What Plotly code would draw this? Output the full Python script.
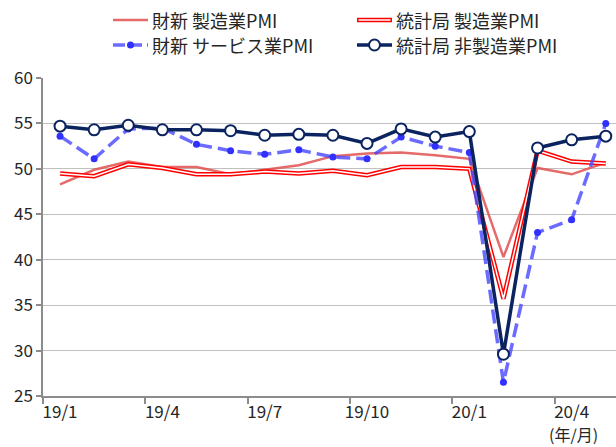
import plotly.graph_objects as go

months = ["19/1","19/2","19/3","19/4","19/5","19/6","19/7","19/8","19/9","19/10","19/11","19/12",
          "20/1","20/2","20/3","20/4","20/5"]
caixin_mfg = [48.3,49.9,50.8,50.2,50.2,49.4,49.9,50.4,51.4,51.7,51.8,51.5,51.1,40.3,50.1,49.4,50.7]
nbs_mfg = [49.5,49.2,50.5,50.1,49.4,49.4,49.7,49.5,49.8,49.3,50.2,50.2,50.0,35.7,52.0,50.8,50.6]
caixin_svc = [53.6,51.1,54.4,54.5,52.7,52.0,51.6,52.1,51.3,51.1,53.5,52.5,51.8,26.5,43.0,44.4,55.0]
nbs_nonmfg = [54.7,54.3,54.8,54.3,54.3,54.2,53.7,53.8,53.7,52.8,54.4,53.5,54.1,29.6,52.3,53.2,53.6]
tick_idx = [0,3,6,9,12,15]
tick_text = ["19/1","19/4","19/7","19/10","20/1","20/4"]
names = ["財新 製造業PMI","統計局 製造業PMI","財新 サービス業PMI","統計局 非製造業PMI"]

x = list(range(len(months)))
FONT = "Noto Sans CJK JP, Noto Sans, sans-serif"
C_CX = "rgba(224,80,80,0.85)"
C_RED = "#FF0000"
C_BLUE = "rgba(70,70,255,0.8)"
C_BLUE_M = "#3030FF"
C_NAVY = "#0B2460"

fig = go.Figure()
fig.add_trace(go.Scatter(x=x, y=caixin_mfg, mode="lines", line=dict(color=C_CX, width=2.5),
                         name=names[0], showlegend=False))
fig.add_trace(go.Scatter(x=x, y=nbs_mfg, mode="lines", line=dict(color=C_RED, width=4.5),
                         name=names[1], showlegend=False))
fig.add_trace(go.Scatter(x=x, y=nbs_mfg, mode="lines", line=dict(color="white", width=1.5),
                         showlegend=False, hoverinfo="skip"))
fig.add_trace(go.Scatter(x=x, y=caixin_svc, mode="lines+markers",
                         line=dict(color=C_BLUE, width=3.5, dash="14px,6px"),
                         marker=dict(color=C_BLUE_M, size=7), name=names[2], showlegend=False))
fig.add_trace(go.Scatter(x=x, y=nbs_nonmfg, mode="lines+markers",
                         line=dict(color=C_NAVY, width=3.5),
                         marker=dict(color="white", size=11, line=dict(color=C_NAVY, width=2)),
                         name=names[3], showlegend=False))

# plot area geometry (pixels) for legend placement
L, T, R, B = 43, 78, 0, 51
W, H = 616, 447
pw, ph = W - L - R, H - T - B
def px(xp):
    return (xp - L) / pw
def py(yp):
    return (H - B - yp) / ph

shapes = []
annots = []
rows = [20, 45]
cols = [(113, 148, 150), (357, 392, 394)]
entries = [(0, 0, 0), (1, 0, 1), (2, 1, 0), (3, 1, 1)]
for idx, r, c in entries:
    x0, x1, xt = cols[c]
    yy = py(rows[r])
    if idx == 0:
        shapes.append(dict(type="line", xref="paper", yref="paper", x0=px(x0), x1=px(x1), y0=yy, y1=yy,
                           line=dict(color=C_CX, width=2.5)))
    elif idx == 1:
        shapes.append(dict(type="line", xref="paper", yref="paper", x0=px(x0), x1=px(x1), y0=yy, y1=yy,
                           line=dict(color=C_RED, width=4.5)))
        shapes.append(dict(type="line", xref="paper", yref="paper", x0=px(x0+1.5), x1=px(x1-1.5), y0=yy, y1=yy,
                           line=dict(color="white", width=1.5)))
    elif idx == 2:
        shapes.append(dict(type="line", xref="paper", yref="paper", x0=px(x0), x1=px(x1), y0=yy, y1=yy,
                           line=dict(color=C_BLUE, width=3.5, dash="12px,5px")))
        shapes.append(dict(type="circle", xref="paper", yref="paper", xsizemode="pixel", ysizemode="pixel",
                           xanchor=px((x0+x1)/2), yanchor=yy, x0=-3.5, x1=3.5, y0=-3.5, y1=3.5,
                           fillcolor=C_BLUE_M, line=dict(width=0)))
    else:
        shapes.append(dict(type="line", xref="paper", yref="paper", x0=px(x0), x1=px(x1), y0=yy, y1=yy,
                           line=dict(color=C_NAVY, width=3.5)))
        shapes.append(dict(type="circle", xref="paper", yref="paper", xsizemode="pixel", ysizemode="pixel",
                           xanchor=px((x0+x1)/2), yanchor=yy, x0=-5.5, x1=5.5, y0=-5.5, y1=5.5,
                           fillcolor="white", line=dict(color=C_NAVY, width=2)))
    annots.append(dict(text=names[idx], xref="paper", yref="paper", x=px(xt), y=yy, xanchor="left",
                       yanchor="middle", showarrow=False, font=dict(size=18, color="#262626", family=FONT)))

annots.append(dict(text="(年/月)", xref="paper", yref="paper", x=px(573), y=py(434), xanchor="center",
                   yanchor="middle", showarrow=False, font=dict(size=16, color="#262626", family=FONT)))

fig.update_layout(
    width=W, height=H, margin=dict(l=L, r=R, t=T, b=B),
    plot_bgcolor="white", paper_bgcolor="white",
    font=dict(family=FONT, size=17, color="#262626"),
    shapes=shapes, annotations=annots, showlegend=False,
    xaxis=dict(range=[-0.5, 16.3], tickmode="array", tickvals=tick_idx, ticktext=tick_text,
               ticks="", showgrid=False, zeroline=False, showline=True, linecolor="#8C8C8C", linewidth=1.5,
               tickfont=dict(size=17, color="#262626"),
               minor=dict(tick0=-0.5, dtick=3, ticks="outside", ticklen=6, tickcolor="#8C8C8C",
                          tickwidth=1.5, showgrid=False)),
    yaxis=dict(range=[25, 60], dtick=5, tick0=25, showgrid=True, gridcolor="#C0C0C0", gridwidth=1.2,
               zeroline=False, showline=True, linecolor="#8C8C8C", linewidth=1.5,
               ticks="outside", ticklen=5, tickcolor="#8C8C8C", tickwidth=1.5,
               tickfont=dict(size=17, color="#262626")),
)

fig.write_html("out.html", config={"displayModeBar": False})
with open("out.html", encoding="utf-8") as f:
    html = f.read()
html = html.replace("<head>", "<head><style>html,body{margin:0;padding:0;}</style>", 1)
with open("out.html", "w", encoding="utf-8") as f:
    f.write(html)
